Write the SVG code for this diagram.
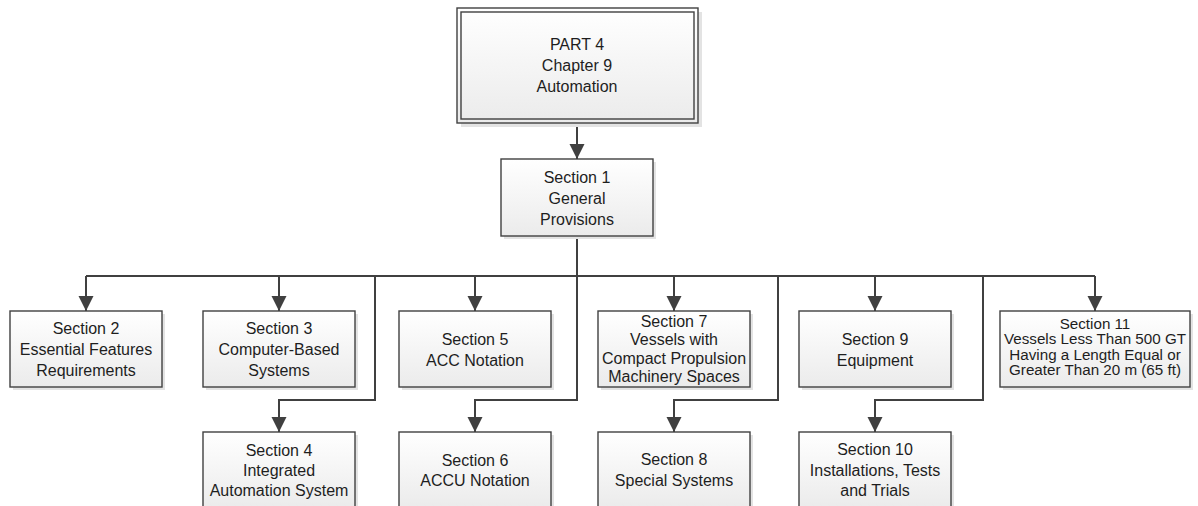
<svg xmlns="http://www.w3.org/2000/svg" width="1198" height="506" viewBox="0 0 1198 506">
<defs>
<linearGradient id="fillg" x1="0" y1="0" x2="0" y2="1">
<stop offset="0" stop-color="#ffffff"/>
<stop offset="1" stop-color="#ebebeb"/>
</linearGradient>
<marker id="arr" markerUnits="userSpaceOnUse" markerWidth="16" markerHeight="16" refX="15" refY="7.5" orient="auto">
<path d="M0,0 L15,7.5 L0,15 z" fill="#404040"/>
</marker>
</defs>
<style>
.box{fill:url(#fillg);stroke:#404040;stroke-width:1.4}
.shd{fill:#e3e3e3}
.t{font-family:"Liberation Sans",Arial,sans-serif;font-size:16px;fill:#1e1e1e;text-anchor:middle}
.s{font-size:15.2px}
.c{fill:none;stroke:#404040;stroke-width:2}
.ca{fill:none;stroke:#404040;stroke-width:2;marker-end:url(#arr)}
</style>

<g id="connectors">
<path class="ca" d="M577,123 V159"/>
<path class="c" d="M86,276 H1095"/>
<path class="c" d="M577,236 V276"/>
<path class="ca" d="M86,276 V311"/>
<path class="ca" d="M279,276 V311"/>
<path class="ca" d="M375,276 V400 H279 V432"/>
<path class="ca" d="M475,276 V311"/>
<path class="ca" d="M577,276 V400 H475 V432"/>
<path class="ca" d="M674,276 V311"/>
<path class="ca" d="M778,276 V400 H674 V432"/>
<path class="ca" d="M875,276 V311"/>
<path class="ca" d="M983,276 V400 H875 V432"/>
<path class="ca" d="M1095,276 V311"/>
</g>

<g id="part4">
<rect class="shd" x="461" y="12" width="241" height="115"/>
<rect class="box" x="457" y="8" width="241" height="115"/>
<rect x="461" y="12" width="233" height="107" fill="none" stroke="#404040" stroke-width="1.4"/>
<text class="t" x="577" y="49.5">PART 4</text>
<text class="t" x="577" y="71">Chapter 9</text>
<text class="t" x="577" y="92">Automation</text>
</g>

<g id="section1">
<rect class="shd" x="504" y="162" width="152" height="77"/>
<rect class="box" x="501" y="159" width="152" height="77"/>
<text class="t" x="577" y="182.5">Section 1</text>
<text class="t" x="577" y="203.5">General</text>
<text class="t" x="577" y="224.5">Provisions</text>
</g>

<g id="section2">
<rect class="shd" x="13" y="314" width="152" height="76"/>
<rect class="box" x="10" y="311" width="152" height="76"/>
<text class="t" x="86" y="333.5">Section 2</text>
<text class="t" x="86" y="354.5">Essential Features</text>
<text class="t" x="86" y="376">Requirements</text>
</g>

<g id="section3">
<rect class="shd" x="206" y="314" width="152" height="76"/>
<rect class="box" x="203" y="311" width="152" height="76"/>
<text class="t" x="279" y="333.5">Section 3</text>
<text class="t" x="279" y="354.5">Computer-Based</text>
<text class="t" x="279" y="376">Systems</text>
</g>

<g id="section5">
<rect class="shd" x="402" y="314" width="152" height="76"/>
<rect class="box" x="399" y="311" width="152" height="76"/>
<text class="t" x="475" y="344.5">Section 5</text>
<text class="t" x="475" y="365.5">ACC Notation</text>
</g>

<g id="section7">
<rect class="shd" x="601" y="314" width="152" height="76"/>
<rect class="box" x="598" y="311" width="152" height="76"/>
<text class="t" x="674" y="327">Section 7</text>
<text class="t" x="674" y="345.3">Vessels with</text>
<text class="t" x="674" y="363.6">Compact Propulsion</text>
<text class="t" x="674" y="382">Machinery Spaces</text>
</g>

<g id="section9">
<rect class="shd" x="802" y="314" width="152" height="76"/>
<rect class="box" x="799" y="311" width="152" height="76"/>
<text class="t" x="875" y="344.5">Section 9</text>
<text class="t" x="875" y="365.5">Equipment</text>
</g>

<g id="section11">
<rect class="shd" x="1003" y="314" width="190" height="76"/>
<rect class="box" x="1000" y="311" width="190" height="76"/>
<text class="t s" x="1095" y="328.5">Section 11</text>
<text class="t s" x="1095" y="344">Vessels Less Than 500 GT</text>
<text class="t s" x="1095" y="359.5">Having a Length Equal or</text>
<text class="t s" x="1095" y="375">Greater Than 20 m (65 ft)</text>
</g>

<g id="section4">
<rect class="shd" x="206" y="435" width="152" height="76"/>
<rect class="box" x="203" y="432" width="152" height="76"/>
<text class="t" x="279" y="455.5">Section 4</text>
<text class="t" x="279" y="476">Integrated</text>
<text class="t" x="279" y="495.5">Automation System</text>
</g>

<g id="section6">
<rect class="shd" x="402" y="435" width="152" height="76"/>
<rect class="box" x="399" y="432" width="152" height="76"/>
<text class="t" x="475" y="465.5">Section 6</text>
<text class="t" x="475" y="486">ACCU Notation</text>
</g>

<g id="section8">
<rect class="shd" x="601" y="435" width="152" height="76"/>
<rect class="box" x="598" y="432" width="152" height="76"/>
<text class="t" x="674" y="465">Section 8</text>
<text class="t" x="674" y="486">Special Systems</text>
</g>

<g id="section10">
<rect class="shd" x="802" y="435" width="152" height="76"/>
<rect class="box" x="799" y="432" width="152" height="76"/>
<text class="t" x="875" y="455">Section 10</text>
<text class="t" x="875" y="475.5">Installations, Tests</text>
<text class="t" x="875" y="495.5">and Trials</text>
</g>
</svg>
